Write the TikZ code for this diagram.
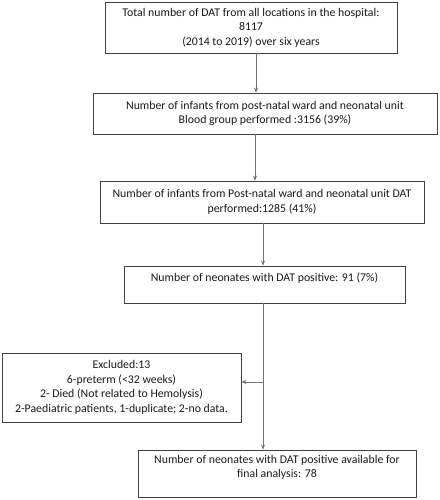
\documentclass[tikz,border=0pt]{standalone}
\usepackage{fontspec}
\setmainfont{Carlito}
\usetikzlibrary{arrows.meta}
\begin{document}
\begin{tikzpicture}[x=1pt,y=-1pt,
  box/.style={draw=black!75,line width=0.9pt,rectangle,align=center,inner sep=0pt,
    font=\fontsize{11.8}{14.5}\selectfont,text=black!90},
  arr/.style={draw=black!55,line width=0.7pt,-{Stealth[length=5pt,width=4pt,fill=black]}}]
\useasboundingbox (0,0) rectangle (439,500);
\node[box,minimum width=292,minimum height=51] (b1) at (251,27.5)
  {Total number of DAT from all locations in the hospital:\\8117\\(2014 to 2019) over six years};
\node[box,minimum width=344,minimum height=41] (b2) at (265,113.5)
  {Number of infants from post-natal ward and neonatal unit\\Blood group performed :3156 (39\%)};
\node[box,minimum width=324,minimum height=42] (b3) at (262,202)
  {Number of infants from Post-natal ward and neonatal unit DAT\\performed:1285 (41\%)};
\node[box,minimum width=281,minimum height=37] (b4) at (264.5,284.5)
  {Number of neonates with DAT positive: 91 (7\%)\\\mbox{}};
\node[box,minimum width=239,minimum height=69] (b5) at (121.5,387.5)
  {Excluded:13\\6-preterm (<32 weeks)\\2- Died (Not related to Hemolysis)\\2-Paediatric patients, 1-duplicate; 2-no data.};
\node[box,minimum width=278,minimum height=47] (b6) at (277,473.5)
  {Number of neonates with DAT positive available for\\final analysis: 78\\\mbox{}};
\coordinate (c1) at (256,0);
\coordinate (c2) at (255,0);
\coordinate (c3) at (263,0);
\coordinate (j) at (263,382);
\draw[arr] (b1.south -| c1) -- (b2.north -| c1);
\draw[arr] (b2.south -| c2) -- (b3.north -| c2);
\draw[arr] (b3.south -| c3) -- (b4.north -| c3);
\draw[arr] (b4.south -| c3) -- (b6.north -| c3);
\draw[arr] (j) -- (b5.east |- j);
\end{tikzpicture}
\end{document}
